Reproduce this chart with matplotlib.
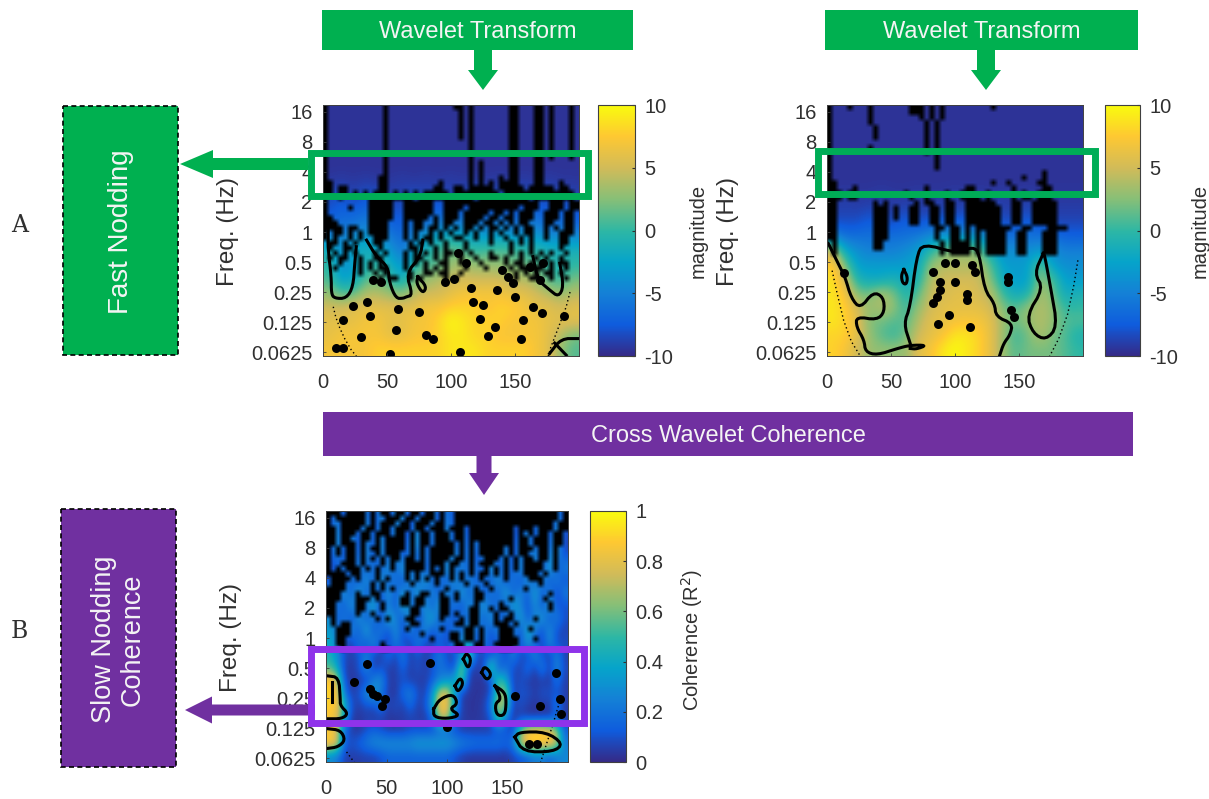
import numpy as np
import matplotlib
matplotlib.use("Agg")
import matplotlib.pyplot as plt
from matplotlib.colors import LinearSegmentedColormap
from matplotlib.patches import Rectangle

plt.rcParams['font.family'] = ['Liberation Sans', 'DejaVu Sans']

W, H = 1209, 799
TXT = '#303030'

# tick labels
freq_ticks = [16, 8, 4, 2, 1, 0.5, 0.25, 0.125, 0.0625]
freq_labels = ['16', '8', '4', '2', '1', '0.5', '0.25', '0.125', '0.0625']
time_ticks = [0, 50, 100, 150]
mag_ticks = [-10, -5, 0, 5, 10]
coh_ticks = [0, 0.2, 0.4, 0.6, 0.8, 1]

parula_colors = ['#352A87', '#0F5CDD', '#1481D6', '#06A4CA', '#2EB7A4',
                 '#87BF77', '#D1BB59', '#FEC832', '#F9FB0E']

# magnitude, rows top (high freq) to bottom, columns every 10 time units
mag_a = [
    [-9.5] * 21, [-9.5] * 21, [-9.5] * 21, [-9.5] * 21, [-9.5] * 21,
    [-9.3, -9, -9.3, -9, -9.3, -9.3, -9, -9.3, -9, -9.3, -9, -9.3, -9, -9.3, -9, -9.3, -9, -9.3, -9, -9.3, -9.3],
    [-8.5, -8, -8.8, -7.8, -8, -8.8, -8.8, -8, -8.8, -8, -8.8, -8.5, -8, -8.8, -8, -8.8, -8, -8.8, -8, -8.5, -8.8],
    [-8, -7, -7.5, -6.5, -7, -8, -8, -7, -8, -7, -8, -7.5, -7, -8, -7, -8, -7, -7, -8, -7, -8],
    [-7, -6, -6, -5, -6, -7, -7.5, -6, -6, -5, -5, -5, -5, -6, -5, -6, -6, -5, -7, -6, -7],
    [-4, -5, -4, -3, -4, -5, -7, -4, -3, -2, -1, -2, -2, -3, -2, -3, -3, -3, -4, -4, -4],
    [-1, -4, -2, -1, -2, -3, -6, -2, -1, 1, 2, 1, 0, 1, 1, 1, 0, 0, -1, -1, -1],
    [0, -4, -3, -1, 0, -1, -4, 0, 1, 1, 3, 4, 3, 3, 3, 2, 2, 1, 0, -1, 0],
    [1, -3, -2, 1, 2, 0, -2, 2, 3, 4, 5, 5, 5, 5, 5, 4, 4, 3, 1, 0, 2],
    [3, 1, 1, 4, 4, 3, 2, 4, 5, 5, 6, 7, 7, 7, 7, 6, 6, 5, 4, 3, 4],
    [5, 5, 6, 6, 6, 6, 6, 6, 7, 7, 8, 8, 8, 7, 8, 8, 7, 6, 6, 5, 6],
    [6, 6, 6, 7, 7, 6, 6, 7, 7, 8, 10, 9, 8, 8, 8, 7, 7, 7, 6, 6, 6],
    [6, 7, 7, 7, 7, 6, 6, 7, 7, 8, 9, 9, 8, 8, 7, 7, 7, 7, 6, 4, 2],
    [7, 7, 7, 7, 8, 8, 8, 8, 8, 8, 9, 9, 9, 8, 8, 8, 8, 7, 6, 3, 1],
]
mag_b = [
    [-9.5] * 21, [-9.5] * 21, [-9.5] * 21, [-9.5] * 21, [-9.5] * 21, [-9.5] * 21,
    [-9.3, -9, -9.3, -9.3, -9, -9.3, -9.3, -9, -9.3, -9.3, -9, -9.3, -9, -9.3, -9, -9.3, -9, -9.3, -9.3, -9.3, -9.3],
    [-9, -8.8, -9, -8.5, -9, -9, -8.5, -9, -9, -8.5, -9, -8.5, -9, -8.5, -9, -9, -8.5, -9, -9, -9, -9],
    [-8, -8, -8, -7, -8, -8, -7, -8, -7, -7, -7, -7, -7, -7, -8, -8, -7, -8, -8.5, -8.5, -8.5],
    [-4, -6, -6, -6, -6, -6, -6, -5, -4, -3, -3, -3, -3, -5, -6, -6, -6, -6, -6, -7, -7],
    [5, -2, -4, -5, -5, -5, -4, -3, 0, 2, 3, 3, 2, -2, -4, -4, -4, -3, -4, -5, -5],
    [8, 2, -3, -3, -3, -3, -3, -2, 3, 4, 4, 4, 4, 1, -3, -3, -3, 2, -3, -4, -4],
    [9, 5, -1, -2, -2, -1, -2, -1, 4, 5, 5, 5, 5, 2, -2, -3, -3, 3, 1, -3, -3],
    [9, 7, 2, 2, 4, 2, -1, 1, 5, 5, 6, 6, 5, 4, 0, -2, -1, 4, 2, -2, -1],
    [9, 8, 5, 3, 4, 3, 0, 3, 5, 6, 6, 6, 6, 5, 2, 1, 3, 4, 3, 0, 0],
    [9, 8, 6, 2, 2, 1, 1, 4, 6, 6, 7, 7, 7, 6, 3, 2, 3, 4, 3, 1, 1],
    [8, 8, 6, 3, 1, 0, 2, 5, 6, 7, 9, 9, 8, 6, 3, 0, 2, 4, 2, 1, -1],
    [8, 7, 5, 3, 3, 3, 3, 6, 7, 9, 10, 9, 8, 6, 3, 1, 2, 2, 2, 1, 0],
]
# coherence in hundredths, rows top to bottom, 33 columns
coh_c = [
    [6, 25, 6, 30, 6, 25, 6, 30, 6, 25, 30, 6, 25, 6, 30, 6, 25, 6, 25, 6, 10, 6, 25, 6, 10, 25, 6, 25, 6, 30, 6, 25, 10],
    [10, 30, 6, 25, 10, 35, 6, 25, 10, 30, 10, 6, 30, 10, 25, 6, 30, 10, 25, 6, 10, 10, 30, 6, 25, 10, 6, 25, 10, 30, 6, 30, 10],
    [6, 35, 10, 30, 6, 25, 10, 35, 6, 25, 6, 25, 35, 6, 25, 10, 35, 6, 25, 10, 30, 6, 25, 10, 25, 6, 25, 30, 6, 25, 10, 35, 6],
    [10, 25, 6, 25, 10, 35, 6, 30, 10, 35, 6, 25, 10, 30, 6, 25, 10, 35, 10, 25, 6, 25, 30, 10, 30, 6, 25, 10, 35, 6, 25, 30, 10],
    [6, 10, 25, 10, 30, 10, 25, 6, 35, 10, 40, 10, 30, 6, 25, 10, 40, 10, 30, 10, 25, 6, 35, 10, 25, 10, 35, 6, 25, 10, 40, 10, 25],
    [10, 30, 6, 25, 6, 35, 10, 40, 10, 25, 6, 35, 10, 40, 10, 25, 6, 35, 10, 30, 10, 25, 10, 35, 6, 25, 6, 35, 10, 30, 10, 25, 10],
    [25, 10, 35, 10, 40, 10, 25, 6, 35, 10, 35, 10, 40, 10, 30, 6, 35, 10, 40, 10, 30, 6, 25, 10, 40, 10, 30, 10, 40, 10, 25, 6, 25],
    [10, 25, 10, 35, 10, 25, 40, 10, 25, 10, 40, 25, 10, 35, 10, 40, 10, 25, 6, 35, 10, 40, 10, 25, 10, 40, 25, 10, 30, 10, 35, 10, 10],
    [30, 10, 25, 6, 35, 10, 25, 6, 40, 25, 10, 35, 6, 25, 40, 10, 25, 6, 25, 10, 35, 10, 35, 6, 25, 10, 40, 10, 25, 35, 10, 25, 10],
    [35, 25, 10, 30, 10, 40, 10, 25, 10, 30, 10, 25, 10, 30, 10, 25, 6, 25, 10, 40, 10, 25, 10, 30, 10, 25, 10, 40, 25, 10, 30, 10, 6],
    [40, 25, 8, 5, 22, 8, 30, 10, 5, 25, 8, 5, 25, 8, 5, 12, 8, 25, 30, 35, 8, 25, 8, 10, 5, 25, 8, 35, 10, 5, 30, 8, 10],
    [45, 30, 10, 5, 10, 25, 8, 5, 20, 5, 25, 5, 10, 5, 10, 25, 8, 5, 25, 65, 10, 5, 10, 25, 8, 25, 10, 5, 30, 10, 5, 25, 5],
    [55, 40, 6, 4, 10, 30, 5, 10, 5, 5, 15, 5, 10, 5, 10, 20, 15, 8, 70, 8, 5, 8, 65, 10, 20, 10, 5, 20, 5, 25, 5, 30, 8],
    [90, 75, 10, 3, 5, 5, 25, 30, 5, 5, 10, 5, 5, 5, 12, 25, 30, 40, 60, 5, 3, 3, 8, 55, 40, 5, 10, 5, 3, 5, 3, 20, 5],
    [90, 85, 20, 5, 10, 30, 35, 20, 5, 3, 18, 25, 10, 5, 30, 75, 80, 35, 5, 3, 3, 3, 10, 60, 70, 5, 10, 10, 5, 10, 10, 10, 5],
    [90, 85, 45, 10, 5, 10, 10, 22, 5, 10, 5, 18, 5, 10, 35, 85, 85, 40, 5, 3, 3, 5, 22, 75, 60, 5, 10, 5, 3, 5, 3, 25, 5],
    [85, 80, 35, 5, 3, 5, 3, 5, 3, 3, 5, 5, 5, 3, 15, 70, 75, 15, 5, 3, 3, 5, 10, 60, 25, 3, 5, 3, 3, 3, 5, 12, 3],
    [85, 75, 15, 5, 3, 10, 15, 10, 5, 5, 5, 10, 10, 10, 10, 15, 15, 10, 5, 5, 5, 5, 5, 10, 10, 5, 60, 85, 90, 90, 85, 65, 15],
    [90, 80, 15, 10, 15, 22, 28, 30, 30, 30, 30, 30, 35, 35, 35, 35, 35, 30, 25, 22, 20, 20, 20, 20, 15, 22, 70, 90, 95, 90, 90, 70, 22],
    [28, 22, 6, 5, 5, 6, 6, 10, 15, 15, 15, 15, 15, 15, 15, 15, 15, 10, 5, 3, 3, 3, 3, 3, 3, 6, 10, 15, 22, 22, 15, 22, 28],
]

# significance masks (upper part of each panel), top to bottom
sig_a = """
#...........#.............##.#.......##...##.#...#
#...........#..............#.#.......##...##.#...#
#...........#..............#.#.......##...##.#...#
#...........#..............#.#.......##...##.#...#
#...........#..............#.#.......##...##.#...#
#...........#..............#.#.......##...##.#...#
#...........#..............#.#.......##...##.#...#
#...........#................#.......##...##.#...#
#...........#................#.......##...##.#...#
#...........#................#.......##...##.#...#
#...........#................#.......##...##.#...#
#...........#................#.#.....##...##.....
#...........#................#.#.....##...##.....
#...........#................#.#.....##...##.....
#..........##................#.#...#.##...##.....
##.........##..........#.....#.#.#.####...##...#.
##.##......##.........##..##.#####.#####.#####.##
##.##.#.#.###.#.#.#.#####.#########.##############
#..#.....#########.###########.##########.########
#........#####..######..###################..###.##
#....#...#####..######..####.##########.###..###.##
#........#####..######..###.#####.##.#.###..###.##
##.......#####..#####.#.###.####.##.##.###..###.##
###......####...#.##..#.##..###.##.#.#.##...##..##
####.##..####...#.##.##.#.#.##.#.##.#.#.##..#.#.##
#.##.#.#.####...#.#..#.#.#..#.#..#.#..#.##..#..###
#.#..#.#..###...#.#.##.#..##..#..#..#..#.#..#..##
.##.#.#...##.....#.#.#..#...#....#...#.#.#.....##
.#..##.....#.....##...#.#...#........#...#.....#
..#.#.#...#.#...#.#.#.#.##.#.#...#...#.#.#.#.#..#
.#.##..#..##....#.##..#.#..#..#..##.#..#..#.#..#
...#...#.#.#....#.#.#..##..#...#....#.##.#.#.#.##
..#....#.#.##...#...#.#.#...#...#....#.##.##.#..#
.......#..#.#....#..##.##..#..........#.#.#.##.#.
...........#.##..#.#....#.#...........#..##..#..#
"""

sig_b = """
#...#...#.......###.#.#.........#.................
#.......#.......###.#.#...........................
#.......#.........#.#.#...........................
#.......#..........#.#............................
#........#.........#.#............................
#........#.........#.#............................
#........#.........#.#............................
#..................#.#............................
#.......#..........#.#............................
#..................#.#............................
#....................#............................
#....................#............................
#....................#............................
#.........................................#.......
#.....................................#...#.......
##..............................#..#.....##.......
##...#.............#.......##.......#.....##......
###.##.........#...#...#..###..#....#.#..###......
###.##..........#..#...#..####.#....#.##.###......
##.......#.#.....#.##..##..######...##..#####.....
##.......###.#..##..##.##..#######..##..#####.....
##.......###.#..##..##.##..#######..##..#####.....
##.......###.#..##..##.##..#######..##..#####.....
##.......###....##..##.##..#######..##..#####.....
##.......###.........##.##.#.#######..##...####...
##.......###.........#..##.#.#.####..##...###.....
##.......###.........#..##.#.#.####..##...###.....
.#.......##...........#.####.#.####..##...###.....
.#.......##...........#.####.#.####..##...###.....
.#....................#.####.#.####..##...###.....
"""

sig_c = """
###.####.#.##.##.##.##.#..#####################.#
#.######.#..###.##.###.#..#####################.#
#..#####.#.###.##.###.##..####################.##
##.####.##.##.###.##.###.###.#########.###.###.##
##.###.##.###.##.#.##.###.##.#########.#.#.##.##
##.##..##.#.####.#.##.###.##.#########.##.###.##
##.###.#..#.####.#.##.####.#.#.#######.##.###.##
#.#.##.#.##.####.#.#.#####.#.#.#####.#.###.##.#
#.#.##.#..#.###..#.#.#####.#.#.#####.#.##..##.#
#...##.#.#.#.##.##.#.####.##.#..###.#.#.##.##.#
#..###.#...#.#..####.###.##..#.###..#.#.####..#
#.#.###.#.#..#..####.#.#.#...#..#.#.#.#.####..#
####.##...#.....#.#..###.#.#.#.##.#.#...###.#..
.####.#...#.#...#.#.#.#..#.#...#....#....###...
.###.....#.#.....#....#.....#...#..........#....
####.....#.#.#..........#.....#..#......#.......
###...#..##.....#..##..#..#...##.............#..
###...###.#....##.##...##.#...##.....#......#...
##....##...#...##.##...##.....#....#.........#..
##....##...#.....##....##....##..#.##........#...
##....#..#.......##....##.#..##...#..#...........
.#........#.#...##.....#...#.##...#.##....#.....
.#.##............##.......##.##...###.#.........
..###...........#......#....##.#...###...#......
..###..............#.....##.##.#...###...........
..##.................#...##.##.#...####...#......
..##.......#..............##..##..#####..........
...#.......##.............##..##...###..........
"""

# significance outlines, (time, log2 frequency)
lines_a = [
    ([4, 4, 6.5, 6.5, 9, 18.3, 23.5, 24.8, 26], [0.29, -0.6, -1.49, -2.05, -2.21, -2.21, -1.82, -1.04, -0.49]),
    ([34, 41.7, 50.8, 52, 57, 62.6, 65, 70, 65, 76, 78], [-0.27, -0.82, -1.16, -1.71, -2.21, -2.21, -2.16, -2.1, -1.38, -0.82, -0.27]),
    ([74, 81, 78, 73, 74], [-1.49, -1.82, -2.05, -1.71, -1.49]),
    ([164, 168, 177, 184, 188, 185], [-0.82, -1.6, -1.93, -2.16, -1.82, -1.04]),
    ([200, 186, 177], [-3.55, -3.55, -4.05]),
    ([181, 190], [-3.7, -4.1]),
]
spots_a_t = [23.5, 34, 36.5, 58.7, 74.8, 15.6, 57.4, 80.8, 86, 30, 10.4, 15.6, 52, 107, 129, 134, 122.6, 125, 117, 135.6,
             156, 164, 171, 188, 155, 150, 116, 102, 95, 112, 105.6, 139.5, 144.7, 148.6, 161.7, 172, 169.5, 39, 45.6]
spots_a_f = [-2.47, -2.32, -2.8, -2.58, -2.66, -2.93, -3.27, -3.43, -3.55, -3.49, -3.88, -3.88, -4.05, -3.99, -3.47, -3.16,
             -2.91, -2.43, -2.32, -1.93, -2.93, -2.49, -2.69, -2.8, -3.58, -2.16, -1.88, -1.55, -1.66, -1.04, -0.71, -1.27,
             -1.49, -1.71, -1.16, -1.04, -1.6, -1.6, -1.66]

lines_b = [
    ([1, 10, 14, 19, 26, 36, 44, 45, 39, 23, 23, 29, 30, 39, 55, 65, 78, 70, 65],
     [-0.38, -1.16, -1.49, -2.21, -2.55, -2.0, -2.16, -2.66, -2.93, -2.82, -3.16, -3.6, -3.99, -4.1, -3.88, -3.77, -3.77, -3.9, -3.88]),
    ([65, 60, 65, 70, 75, 101, 114, 119, 123, 131, 132, 145, 143, 138, 135],
     [-3.71, -3.05, -2.49, -0.82, -0.38, -0.71, -0.49, -0.71, -1.93, -2.38, -2.82, -3.05, -3.43, -3.71, -4.1]),
    ([169, 162, 169, 156, 161, 171, 180, 175, 170, 169], [-0.71, -1.38, -1.88, -2.77, -3.38, -3.6, -3.16, -1.93, -0.77, -0.71]),
    ([60, 63, 62, 59, 58, 60], [-1.25, -1.5, -1.75, -1.7, -1.45, -1.25]),
]
spots_b_t = [92, 100, 113, 100, 88, 88, 86, 83, 83, 109, 109, 95, 87, 112, 141.5, 141.5, 144, 146, 13, 115.6]
spots_b_f = [-1.04, -1.04, -1.1, -1.66, -1.66, -1.93, -2.16, -2.38, -1.32, -2.05, -2.27, -2.77, -3.05, -3.16, -1.66, -1.5, -2.6, -2.82, -1.38, -1.32]

lines_c = [
    ([1, 10.6, 11.8, 11.8, 18.4, 13, 1], [-1.26, -1.31, -2.03, -2.25, -2.52, -2.69, -2.69]),
    ([5, 5], [-1.48, -2.14]),
    ([1, 12, 16, 10, 1], [-3.02, -3.07, -3.4, -3.63, -3.68]),
    ([156, 160, 182, 196, 188, 163, 156], [-3.3, -3.13, -3.13, -3.52, -3.79, -3.79, -3.3]),
    ([89, 94, 105, 109, 102, 111, 100, 89, 89], [-2.36, -2.03, -1.86, -2.19, -2.36, -2.58, -2.69, -2.63, -2.36]),
    ([106.6, 111, 113.5, 109, 106.6], [-1.59, -1.31, -1.53, -1.81, -1.59]),
    ([128.6, 131, 137, 133, 128.6], [-1.15, -0.93, -1.2, -1.42, -1.15]),
    ([113.5, 116, 120, 117.6, 113.5], [-0.7, -0.49, -0.7, -1.04, -0.7]),
    ([139.6, 147.8, 149, 147.8, 141, 139.6, 145, 139.6], [-1.59, -1.81, -2.14, -2.58, -2.58, -2.19, -2.03, -1.59]),
]
spots_c_t = [33.8, 22.8, 36.5, 42, 49, 46, 39, 176.6, 194.5, 193, 156, 190, 86, 100, 168, 174]
spots_c_f = [-0.87, -1.48, -1.7, -1.92, -2.03, -2.25, -1.86, -2.25, -2.52, -2.03, -1.92, -1.15, -0.82, -2.96, -3.52, -3.52]

# cone of influence (time, frequency)
coi_a_t = [[8, 10, 13, 17, 22, 26], [193, 190, 186, 182, 178, 176]]
coi_a_f = [[0.178, 0.14, 0.11, 0.085, 0.066, 0.057], [0.25, 0.178, 0.13, 0.095, 0.07, 0.057]]
coi_b_t = [[4, 8, 13, 19, 26], [196, 193, 188, 181, 174]]
coi_b_f = [[0.41, 0.24, 0.13, 0.08, 0.057], [0.52, 0.3, 0.15, 0.085, 0.057]]
coi_c_t = [[17, 21, 24], [194, 187, 182, 177]]
coi_c_f = [[0.072, 0.062, 0.055], [0.25, 0.13, 0.085, 0.055]]

parula = LinearSegmentedColormap.from_list('parula', parula_colors, N=256)
black_alpha = LinearSegmentedColormap.from_list('sig', [(0, 0, 0, 0), (0, 0, 0, 1)])
fig = plt.figure(figsize=(W / 100, H / 100), dpi=100)


def add_ax(x0, y0, x1, y1):
    return fig.add_axes([x0 / W, 1 - y1 / H, (x1 - x0) / W, (y1 - y0) / H])


def parse_mask(txt, nrows=50):
    rows = txt.strip().split('\n')
    n = max(len(r) for r in rows)
    rows = rows + ['.' * n] * (nrows - len(rows))
    return np.array([[c == '#' for c in r.ljust(n, '.')] for r in rows], dtype=float)


def smooth(t, f, n=2):
    # corner cutting so the outlines look like contours
    p = np.column_stack([t, f])
    for _ in range(n):
        q = [p[0]]
        for a, b in zip(p[:-1], p[1:]):
            q += [0.75 * a + 0.25 * b, 0.25 * a + 0.75 * b]
        q.append(p[-1])
        p = np.array(q)
    return p[:, 0], p[:, 1]


def panel(box, cbox, vals, mask, lines, spots, vmin, vmax, cticks, ctlabels, coi_t, coi_f, flabel, clabel):
    ax = add_ax(*box)
    ext = [0, 200, -4.13, 4.23]
    im = ax.imshow(vals, cmap=parula, vmin=vmin, vmax=vmax, extent=ext, aspect='auto', interpolation='bicubic')
    ax.imshow(parse_mask(mask), cmap=black_alpha, vmin=0, vmax=1, extent=ext, aspect='auto', interpolation='bilinear')
    for t, f in lines:
        ax.plot(*smooth(t, f), color='k', lw=2.2, solid_joinstyle='round')
    ax.scatter(spots[0], spots[1], s=42, color='k', lw=0)
    for t, f in zip(coi_t, coi_f):
        ax.plot(t, np.log2(f), color='k', ls=(0, (1, 2)), lw=1.0)
    ax.set_xlim(0, 200)
    ax.set_ylim(-4.13, 4.23)
    ax.set_xticks(time_ticks)
    ax.set_yticks(np.log2(freq_ticks))
    ax.set_yticklabels(freq_labels)
    ax.tick_params(direction='in', length=2.5, width=0.6, color='#404040', labelsize=14.5, labelcolor=TXT)
    ax.tick_params(axis='x', pad=12.5)
    ax.tick_params(axis='y', pad=7.5)
    for s in ax.spines.values():
        s.set_linewidth(0.7)
        s.set_color('#404040')
    fig.text(flabel[0] / W, 1 - flabel[1] / H, 'Freq. (Hz)', rotation=90, fontsize=17.5, color=TXT, ha='center', va='center')
    cax = add_ax(*cbox)
    cb = fig.colorbar(im, cax=cax)
    cb.set_ticks(cticks)
    cb.set_ticklabels(ctlabels)
    cb.ax.tick_params(direction='in', length=2.5, width=0.8, color='#303030', labelsize=14.5, labelcolor=TXT, pad=6.5)
    cb.outline.set_linewidth(0.8)
    cb.outline.set_edgecolor('#404040')
    fig.text(clabel[0] / W, 1 - clabel[1] / H, clabel[2], rotation=90, fontsize=14.5, color=TXT, ha='center', va='center')
    return ax


panel((323, 105, 579, 356), (598, 105, 635, 356), np.array(mag_a), sig_a, lines_a, (spots_a_t, spots_a_f), -10, 10, mag_ticks,
      ['-10', '-5', '0', '5', '10'], coi_a_t, coi_a_f, (228, 231), (698, 231, 'magnitude'))
panel((827, 105, 1083, 356), (1105, 105, 1140, 356), np.array(mag_b), sig_b, lines_b, (spots_b_t, spots_b_f), -10, 10, mag_ticks,
      ['-10', '-5', '0', '5', '10'], coi_b_t, coi_b_f, (728, 231), (1200, 231, 'magnitude'))
panel((326, 511, 568, 762), (590, 511, 626, 762), np.array(coh_c) / 100, sig_c, lines_c, (spots_c_t, spots_c_f), 0, 1, coh_ticks,
      ['0', '0.2', '0.4', '0.6', '0.8', '1'], coi_c_t, coi_c_f, (231, 637), (692, 640, 'Coherence (R$^{2}$)'))

# overlay in pixel coordinates for the annotation boxes and arrows
ov = fig.add_axes([0, 0, 1, 1], zorder=10)
ov.set_xlim(0, W)
ov.set_ylim(H, 0)
ov.axis('off')
ov.patch.set_alpha(0)

GREEN = '#00B050'
PURPLE = '#7030A0'
FRAME_G = '#00AD56'
FRAME_P = '#8F33EA'


def box(x0, y0, x1, y1, color, label=None, fs=17, rot=0, dashed=False):
    ov.add_patch(Rectangle((x0, y0), x1 - x0, y1 - y0, fc=color, ec='k' if dashed else color,
                           ls=(0, (3, 2)) if dashed else '-', lw=1.2 if dashed else 0))
    if label:
        ov.text((x0 + x1) / 2, (y0 + y1) / 2 + 1.5, label, color='#F4F4F4', fontsize=fs, rotation=rot, ha='center',
                va='center', linespacing=1.15)


def frame(x0, y0, x1, y1, color):
    ov.add_patch(Rectangle((x0, y0), x1 - x0, y1 - y0, fc='none', ec=color, lw=5, joinstyle='miter'))


def arrow(x0, y0, x1, y1, color, w, hw, hl):
    ov.arrow(x0, y0, x1 - x0, y1 - y0, width=w, head_width=hw, head_length=hl, length_includes_head=True,
             fc=color, ec=color, lw=0)


box(322, 10, 633, 50, GREEN, 'Wavelet Transform')
box(825, 10, 1138, 50, GREEN, 'Wavelet Transform')
box(323, 412, 1133, 456, PURPLE, 'Cross Wavelet Coherence')
box(63, 106, 178, 355, GREEN, 'Fast Nodding', fs=20, rot=90, dashed=True)
box(61, 509, 176, 767, PURPLE, 'Slow Nodding\nCoherence', fs=19.5, rot=90, dashed=True)

arrow(483, 50, 483, 90, GREEN, 18, 30, 20)
arrow(986, 50, 986, 90, GREEN, 18, 30, 20)
arrow(484, 456, 484, 495, PURPLE, 15, 30, 22)
arrow(308, 164, 180, 164, GREEN, 12, 28, 33)
arrow(315, 710, 185, 710, PURPLE, 11, 27, 27)

frame(310.5, 152.5, 587.5, 195.5, FRAME_G)
frame(817.5, 150.5, 1094.5, 193.5, FRAME_G)
frame(310.5, 648.5, 583.5, 722.5, FRAME_P)

ov.text(20, 226, 'A', family='DejaVu Serif', fontsize=17, color='#303030', ha='center', va='center')
ov.text(19, 632, 'B', family='DejaVu Serif', fontsize=17, color='#303030', ha='center', va='center')

fig.savefig('out.png', dpi=100)
